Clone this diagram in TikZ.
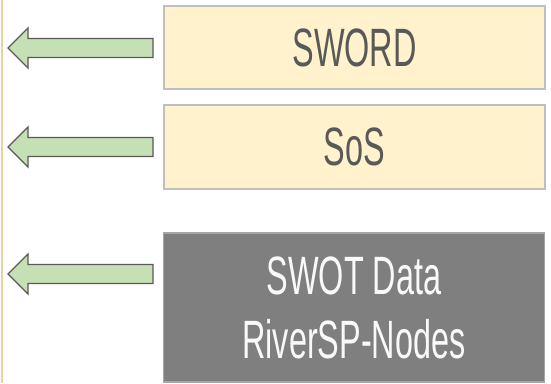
\documentclass[tikz,border=0pt]{standalone}
\usepackage{fontspec}
\setmainfont{Liberation Sans}
\newfontfamily\agency[FakeStretch=0.6]{Liberation Sans}
\definecolor{boxfill}{RGB}{255,242,204}
\definecolor{boxline}{RGB}{191,191,191}
\definecolor{txtgray}{RGB}{89,89,89}
\definecolor{darkfill}{RGB}{127,127,127}
\definecolor{darkline}{RGB}{166,166,166}
\definecolor{arrfill}{RGB}{197,224,180}
\definecolor{arrline}{RGB}{89,89,89}
\definecolor{tan}{RGB}{230,210,165}
\begin{document}
\begin{tikzpicture}[x=1pt,y=1pt,
  lightbox/.style={draw=boxline,line width=1.2pt,fill=boxfill,text=txtgray,
    minimum width=381pt,inner sep=0pt,font=\agency\fontsize{54}{64}\selectfont,align=center},
  darkbox/.style={draw=darkline,line width=1.2pt,fill=darkfill,text=white!95!gray,
    minimum width=381pt,inner sep=0pt,font=\agency\fontsize{54}{64}\selectfont,align=center},
  greenarrow/.style={draw=arrline,fill=arrfill,line width=1.3pt,line join=miter}]
\useasboundingbox (0,0) rectangle (551,383);
\fill[tan] (0.5,0) rectangle (3,383);
\node[lightbox,minimum height=83pt] (sword) at (354.5,335.5) {SWORD};
\node[lightbox,minimum height=84pt] (sos) at (354.5,236) {SoS};
\node[darkbox,minimum height=149pt] (swot) at (354,75.5) {SWOT Data\\RiverSP-Nodes};
\foreach \yc in {335,236,109}{
  \draw[greenarrow] (8,\yc) -- (28,\yc+20) -- (28,\yc+9.5) -- (153,\yc+9.5)
    -- (153,\yc-9.5) -- (28,\yc-9.5) -- (28,\yc-20) -- cycle;
}
\end{tikzpicture}
\end{document}
